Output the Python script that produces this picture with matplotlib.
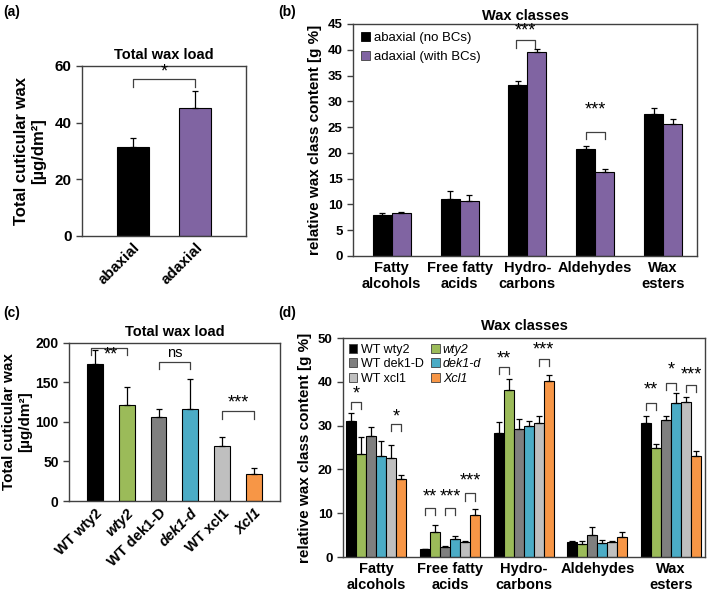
import matplotlib
matplotlib.use('Agg')
import matplotlib.pyplot as plt
from matplotlib.patches import Patch
import numpy as np

plt.rcParams['font.family'] = ['Liberation Sans', 'DejaVu Sans']

# ---- data ----
# (a) total wax load, leaf sides
sides = ['abaxial', 'adaxial']
side_load = [31.5, 45.0]
side_load_err = [3.0, 6.0]

# (b) wax classes by leaf side
classes = ['Fatty\nalcohols', 'Free fatty\nacids', 'Hydro-\ncarbons', 'Aldehydes', 'Wax\nesters']
abaxial_cls = [8.0, 11.0, 33.1, 20.8, 27.6]
abaxial_cls_err = [0.3, 1.6, 0.8, 0.6, 1.2]
adaxial_cls = [8.3, 10.6, 39.5, 16.3, 25.6]
adaxial_cls_err = [0.3, 1.3, 0.7, 0.6, 0.9]

# (c) total wax load, lines
lines = ['WT wty2', 'wty2', 'WT dek1-D', 'dek1-d', 'WT xcl1', 'Xcl1']
line_italic = [False, True, False, True, False, True]
line_load = [173, 121, 106, 116, 70, 34]
line_load_err = [18, 23, 10, 39, 11, 8]

# (d) wax classes by line (rows = lines, cols = classes)
line_cls = [
    [31.0, 1.8, 28.4, 3.4, 30.6],
    [23.6, 5.8, 38.2, 3.0, 24.8],
    [27.6, 2.2, 29.3, 5.0, 31.3],
    [23.0, 4.2, 29.8, 3.2, 35.2],
    [22.5, 3.5, 30.5, 3.5, 35.4],
    [17.7, 9.6, 40.3, 4.6, 23.1],
]
line_cls_err = [
    [1.8, 0.1, 2.4, 0.3, 1.7],
    [3.8, 1.6, 2.5, 0.6, 1.1],
    [2.1, 0.2, 2.2, 1.8, 1.0],
    [3.5, 0.5, 1.2, 0.7, 2.3],
    [3.0, 0.2, 1.8, 0.2, 1.2],
    [1.1, 1.3, 1.2, 1.2, 1.1],
]

purple = '#8064A2'
line_colors = ['#000000', '#9BBB59', '#7F7F7F', '#4BACC6', '#BFBFBF', '#F79646']


def style_axes(ax):
    for s in ax.spines.values():
        s.set_color('#404040')
        s.set_linewidth(1.0)
    ax.tick_params(axis='x', length=0)
    ax.tick_params(axis='y', direction='out', length=4, width=1, color='#404040')
    for lab in ax.get_yticklabels():
        lab.set_fontweight('bold')


def bracket(ax, x1, x2, top, leg, text, text_y, text_x=None, size=13):
    ax.plot([x1, x1, x2, x2], [top - leg, top, top, top - leg], color='#404040', lw=0.9)
    if text_x is None:
        text_x = (x1 + x2) / 2
    ax.text(text_x, text_y, text, ha='center', va='center', fontsize=size)


err_kw = dict(ecolor='black', elinewidth=0.9, capsize=2.5, capthick=0.9)

fig = plt.figure(figsize=(7.09, 5.97), dpi=100)

# ---------- (a) ----------
ax = fig.add_axes([0.1157, 0.6047, 0.2313, 0.2848])
xa = np.arange(len(sides))
ax.bar(xa, side_load, width=0.52, color=['black', purple], edgecolor='black', linewidth=0.8,
       yerr=[np.zeros(2), side_load_err], error_kw=err_kw)
ax.set_xlim(-0.82, 1.82)
ax.set_ylim(0, 60)
ax.set_yticks([0, 20, 40, 60])
ax.set_yticklabels(['0', '20', '40', '60'], fontsize=11)
ax.set_xticks(xa)
ax.set_xticklabels(sides, rotation=45, ha='right', rotation_mode='anchor', fontsize=11,
                   fontweight='bold')
ax.set_ylabel('Total cuticular wax\n[µg/dm²]', fontsize=12, fontweight='bold', labelpad=6)
ax.set_title('Total wax load', fontsize=10.5, fontweight='bold', pad=5)
style_axes(ax)
bracket(ax, 0, 1, 55.4, 2.8, '*', 57.8)

# ---------- (b) ----------
ax = fig.add_axes([0.498, 0.5712, 0.485, 0.3886])
xb = np.arange(len(classes))
bw = 0.28
ax.bar(xb - bw / 2, abaxial_cls, width=bw, color='black', edgecolor='black', linewidth=0.8,
       yerr=[np.zeros(5), abaxial_cls_err], error_kw=err_kw)
ax.bar(xb + bw / 2, adaxial_cls, width=bw, color=purple, edgecolor='black', linewidth=0.8,
       yerr=[np.zeros(5), adaxial_cls_err], error_kw=err_kw)
ax.set_xlim(-0.57, 4.5)
ax.set_ylim(0, 45)
ax.set_yticks(np.arange(0, 46, 5))
ax.set_yticklabels([str(v) for v in range(0, 46, 5)], fontsize=9.5)
ax.set_xticks(xb)
ax.set_xticklabels(classes, fontsize=10.5, fontweight='bold')
ax.set_ylabel('relative wax class content [g %]', fontsize=11, fontweight='bold', labelpad=4)
ax.set_title('Wax classes', fontsize=10.5, fontweight='bold', pad=3)
style_axes(ax)
handles = [Patch(facecolor='black', edgecolor='black', linewidth=0.6),
           Patch(facecolor=purple, edgecolor='#404040', linewidth=0.6)]
ax.legend(handles, ['abaxial (no BCs)', 'adaxial (with BCs)'], loc='upper left', frameon=False,
          fontsize=9.5, handlelength=0.7, handleheight=0.7, handletextpad=0.3,
          borderaxespad=0.2, labelspacing=0.5)
bracket(ax, 2 - bw / 2 - 0.03, 2 + bw / 2 - 0.03, 41.9, 1.5, '***', 43.6)
bracket(ax, 3 - bw / 2, 3 + bw / 2, 24.1, 1.5, '***', 28.3)

# ---------- (c) ----------
ax = fig.add_axes([0.0973, 0.1608, 0.2976, 0.2647])
xc = np.arange(len(lines))
ax.bar(xc, line_load, width=0.5, color=line_colors, edgecolor='black', linewidth=0.8,
       yerr=[np.zeros(6), line_load_err], error_kw=err_kw)
ax.set_xlim(-0.8, 5.8)
ax.set_ylim(0, 200)
ax.set_yticks([0, 50, 100, 150, 200])
ax.set_yticklabels(['0', '50', '100', '150', '200'], fontsize=10)
ax.set_xticks(xc)
ax.set_xticklabels(lines, rotation=45, ha='right', rotation_mode='anchor', fontsize=10.5,
                   fontweight='bold')
for lab, it in zip(ax.get_xticklabels(), line_italic):
    if it:
        lab.set_fontstyle('italic')
ax.set_ylabel('Total cuticular wax\n[µg/dm²]', fontsize=11, fontweight='bold', labelpad=2)
ax.set_title('Total wax load', fontsize=10.5, fontweight='bold', pad=5)
style_axes(ax)
bracket(ax, -0.12, 1.0, 194, 9, '**', 185, text_x=0.5)
bracket(ax, 2, 3, 175.6, 9, 'ns', 187, size=10.5)
bracket(ax, 4, 5, 114, 10, '***', 124)

# ---------- (d) ----------
ax = fig.add_axes([0.4838, 0.067, 0.5106, 0.3668])
xd = np.arange(len(classes))
bwd = 0.136
for i in range(len(lines)):
    off = (i - 2.5) * bwd
    ax.bar(xd + off, line_cls[i], width=bwd, color=line_colors[i], edgecolor='black',
           linewidth=0.8, yerr=[np.zeros(5), line_cls_err[i]], error_kw=dict(err_kw, capsize=2))
ax.set_xlim(-0.45, 4.46)
ax.set_ylim(0, 50)
ax.set_yticks(np.arange(0, 51, 10))
ax.set_yticklabels([str(v) for v in range(0, 51, 10)], fontsize=9.5)
ax.set_xticks(xd)
ax.set_xticklabels(classes, fontsize=10.5, fontweight='bold')
ax.set_ylabel('relative wax class content [g %]', fontsize=11, fontweight='bold', labelpad=4)
ax.set_title('Wax classes', fontsize=10.5, fontweight='bold', pad=6)
style_axes(ax)
handles = [Patch(facecolor=c, edgecolor='#404040', linewidth=0.6) for c in line_colors]
order = [0, 2, 4, 1, 3, 5]
leg = ax.legend([handles[k] for k in order], [lines[k] for k in order], ncol=2, loc='upper left',
                frameon=False, fontsize=9, handlelength=0.7, handleheight=0.7,
                handletextpad=0.25, borderaxespad=0.25, borderpad=0.2, labelspacing=0.2,
                columnspacing=0.6)
for t, k in zip(leg.get_texts(), order):
    if line_italic[k]:
        t.set_fontstyle('italic')

# significance brackets: (group, first bar, top, text_y, text)
d_sig = [
    (0, 0, 35.5, 37.3, '*'),
    (0, 4, 30.4, 32.0, '*'),
    (1, 0, 11.1, 13.7, '**'),
    (1, 2, 11.1, 13.7, '***'),
    (1, 4, 14.5, 17.3, '***'),
    (2, 0, 43.3, 45.3, '**'),
    (2, 4, 45.2, 47.2, '***'),
    (4, 0, 35.2, 38.1, '**'),
    (4, 2, 39.8, 42.6, '*'),
    (4, 4, 39.3, 41.5, '***'),
]
for g, b, top, ty, txt in d_sig:
    x1 = g + (b - 2.5) * bwd
    x2 = g + (b + 1 - 2.5) * bwd
    bracket(ax, x1, x2, top, 1.6, txt, ty)

# panel letters
for lbl, x, y in [('(a)', 0.004, 0.992), ('(b)', 0.393, 0.992), ('(c)', 0.004, 0.487),
                  ('(d)', 0.393, 0.487)]:
    fig.text(x, y, lbl, fontsize=10, fontweight='bold', ha='left', va='top')

fig.savefig('out.png', dpi=100)
